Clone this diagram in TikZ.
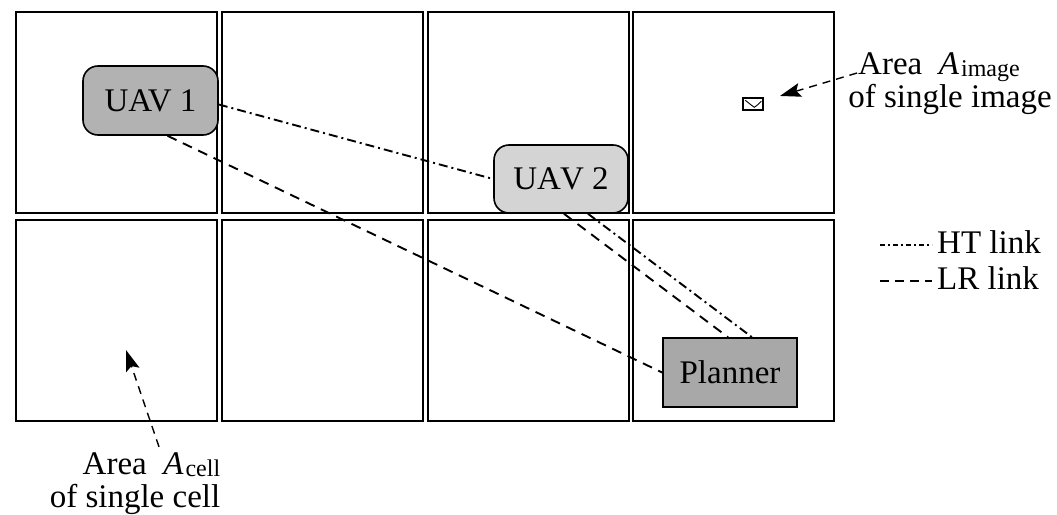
\documentclass[tikz,border=0pt]{standalone}
\usepackage{fontspec}
\setmainfont{Liberation Serif}
\usetikzlibrary{arrows.meta}
\definecolor{uavone}{RGB}{178,178,178}
\definecolor{uavtwo}{RGB}{212,212,212}
\definecolor{planfill}{RGB}{168,168,168}
\tikzset{
  cell/.style={draw, line width=2pt, minimum width=201pt, minimum height=201pt, inner sep=0pt},
  uavbox/.style={draw, line width=1.6pt, rounded corners=15pt, inner sep=0pt, font=\fontsize{33}{36}\selectfont},
  planbox/.style={draw, line width=1.6pt, fill=planfill, inner sep=0pt, minimum width=134pt, minimum height=69pt, font=\fontsize{33}{36}\selectfont},
  htlink/.style={line width=1.9pt, dash pattern=on 9pt off 4pt on 2pt off 4pt},
  lrlink/.style={line width=1.9pt, dash pattern=on 10pt off 7pt},
  pointer/.style={line width=1.4pt, dash pattern=on 8pt off 6pt, -{Stealth[length=21pt,width=14pt,inset=4pt]}},
  lbl/.style={inner sep=0pt, font=\fontsize{33}{33}\selectfont}
}
\newcommand{\subtxt}[1]{\kern2pt\raisebox{-0.12ex}{\fontsize{24}{24}\selectfont #1}}
\begin{document}
\begin{tikzpicture}[x=1pt,y=-1pt]
\useasboundingbox (0,0) rectangle (1057,514);
% grid
\node[cell] (c11) at (116.5,112.5) {};
\node[cell] (c12) at (322.5,112.5) {};
\node[cell] (c13) at (528,112.5) {};
\node[cell] (c14) at (733,112.5) {};
\node[cell] (c21) at (116.5,320.5) {};
\node[cell] (c22) at (322.5,320.5) {};
\node[cell] (c23) at (528,320.5) {};
\node[cell] (c24) at (733,320.5) {};
% boxes
\node[uavbox, fill=uavone, minimum width=135pt, minimum height=69pt] (uav1) at (150.5,100.5) {UAV 1};
\node[uavbox, fill=uavtwo, minimum width=134pt, minimum height=68pt] (uav2) at (561,179) {UA\kern-1pt V 2};
\node[planbox] (plan) at (730,372.5) {Planner};
% links
\draw[htlink] ([yshift=-4pt]uav1.east) -- (uav2.west);
\draw[lrlink] ([xshift=17pt]uav1.south) -- (plan.west);
\draw[lrlink] ([xshift=3pt]uav2.south) -- ([xshift=-2pt]plan.north);
\draw[htlink] ([xshift=27pt]uav2.south) -- ([xshift=22pt]plan.north);
% image area
\node[draw, line width=1.4pt, minimum width=20pt, minimum height=12pt, inner sep=0pt] (img) at (753,104) {};
\draw[line width=0.9pt] ([xshift=3pt,yshift=-3pt]img.north west) -- ++(5,4) -- ++(4,3) -- ++(4,-3) -- ++(3,-3);
\node[lbl, align=center] (limg) at (950,84) {Area \ \textit{A}\subtxt{image}\hspace*{22pt}\\of single image};
\draw[pointer, shorten >=17pt] ([xshift=9pt,yshift=11pt]limg.west) -- (img);
% cell area
\node[lbl, align=right] (lcell) at (135,484) {Area \ \textit{A}\subtxt{cell}\\of single cell};
\coordinate (ctip) at (126,350);
\draw[pointer] ([xshift=24pt,yshift=6pt]lcell.north) -- (ctip);
% legend
\coordinate (ht1) at (880,245);
\coordinate (ht2) at (932,245);
\coordinate (lr1) at (880,281);
\coordinate (lr2) at (932,281);
\draw[line width=1.5pt, dash pattern=on 5pt off 3pt on 2pt off 3pt] (ht1) -- (ht2);
\draw[line width=1.5pt, dash pattern=on 9pt off 6pt] (lr1) -- (lr2);
\node[lbl, anchor=base west] (htl) at (937,253) {HT link};
\node[lbl, anchor=base west] (lrl) at (937,289) {LR link};
\end{tikzpicture}
\end{document}
